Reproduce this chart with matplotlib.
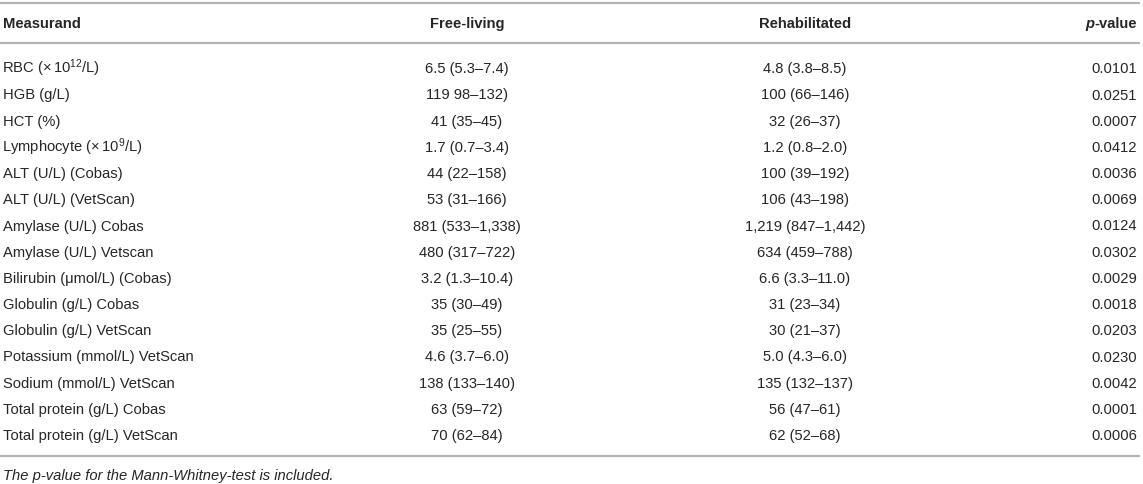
import matplotlib
matplotlib.use("Agg")
import matplotlib.pyplot as plt

# table data
measurands = [
    "RBC (×$\\,$10$^{12}$/L)", "HGB (g/L)", "HCT (%)", "Lymphocyte (×$\\,$10$^{9}$/L)",
    "ALT (U/L) (Cobas)", "ALT (U/L) (VetScan)", "Amylase (U/L) Cobas",
    "Amylase (U/L) Vetscan", "Bilirubin (μmol/L) (Cobas)", "Globulin (g/L) Cobas",
    "Globulin (g/L) VetScan", "Potassium (mmol/L) VetScan", "Sodium (mmol/L) VetScan",
    "Total protein (g/L) Cobas", "Total protein (g/L) VetScan",
]
free_living = [
    "6.5 (5.3–7.4)", "119 98–132)", "41 (35–45)", "1.7 (0.7–3.4)", "44 (22–158)",
    "53 (31–166)", "881 (533–1,338)", "480 (317–722)", "3.2 (1.3–10.4)", "35 (30–49)",
    "35 (25–55)", "4.6 (3.7–6.0)", "138 (133–140)", "63 (59–72)", "70 (62–84)",
]
rehabilitated = [
    "4.8 (3.8–8.5)", "100 (66–146)", "32 (26–37)", "1.2 (0.8–2.0)", "100 (39–192)",
    "106 (43–198)", "1,219 (847–1,442)", "634 (459–788)", "6.6 (3.3–11.0)", "31 (23–34)",
    "30 (21–37)", "5.0 (4.3–6.0)", "135 (132–137)", "56 (47–61)", "62 (52–68)",
]
p_values = [
    "0.0101", "0.0251", "0.0007", "0.0412", "0.0036", "0.0069", "0.0124", "0.0302",
    "0.0029", "0.0018", "0.0203", "0.0230", "0.0042", "0.0001", "0.0006",
]
headers = ["Measurand", "Free-living", "Rehabilitated"]
footnote = "The p-value for the Mann-Whitney-test is included."

plt.rcParams["font.family"] = ["Liberation Sans", "DejaVu Sans"]
plt.rcParams["mathtext.default"] = "regular"

W, H = 1143, 484
fig = plt.figure(figsize=(W / 100, H / 100), dpi=100)
ax = fig.add_axes([0, 0, 1, 1])
ax.set_xlim(0, W)
ax.set_ylim(H, 0)
ax.axis("off")

fs = 10.6
txt = "#262626"
rule = "#b4b4b4"

x_meas, x_free, x_rehab, x_p = 3, 467, 805, 1137
y_head, y_first, step = 23, 68, 26.2
base = 5.3  # centre -> baseline shift (pixels)

# rules
for y in (3, 43, 456):
    ax.plot([0, 1140], [y, y], color=rule, lw=1.6, solid_capstyle="butt")

# header
hy = y_head + base
ax.text(x_meas, hy, headers[0], fontsize=fs, fontweight="bold", color=txt, ha="left", va="baseline")
ax.text(x_free, hy, headers[1], fontsize=fs, fontweight="bold", color=txt, ha="center", va="baseline")
ax.text(x_rehab, hy, headers[2], fontsize=fs, fontweight="bold", color=txt, ha="center", va="baseline")
t_val = ax.text(x_p, hy, "-value", fontsize=fs, fontweight="bold", color=txt, ha="right", va="baseline")
fig.canvas.draw()
bb = t_val.get_window_extent(fig.canvas.get_renderer())
ax.text(bb.x0, hy, "p", fontsize=fs, fontweight="bold", fontstyle="italic", color=txt,
        ha="right", va="baseline")

# rows
for i in range(len(measurands)):
    y = y_first + i * step + base
    # mathtext labels get a small lead-in, nudge them back
    xm = x_meas - 1 if "$" in measurands[i] else x_meas
    ax.text(xm, y, measurands[i], fontsize=fs, color=txt, ha="left", va="baseline")
    ax.text(x_free, y, free_living[i], fontsize=fs, color=txt, ha="center", va="baseline")
    ax.text(x_rehab, y, rehabilitated[i], fontsize=fs, color=txt, ha="center", va="baseline")
    ax.text(x_p, y, p_values[i], fontsize=fs, color=txt, ha="right", va="baseline")

ax.text(x_meas, 475 + base, footnote, fontsize=fs, fontstyle="italic", color=txt, ha="left", va="baseline")

fig.savefig("out.png", dpi=100)
